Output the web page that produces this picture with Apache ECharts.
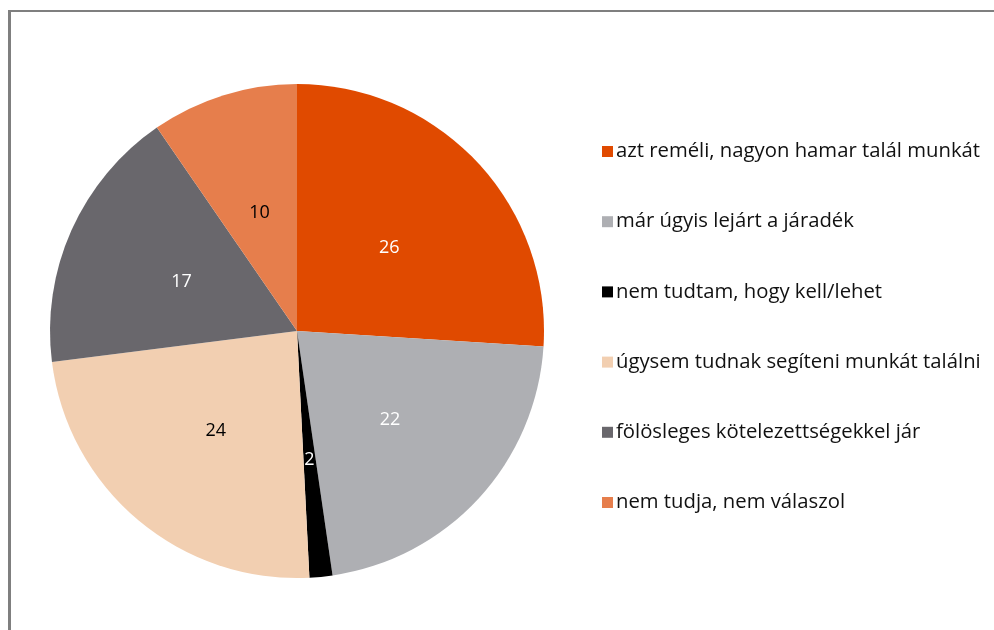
<!DOCTYPE html>
<html>
<head>
<meta charset="utf-8">
<script src="https://cdn.jsdelivr.net/npm/echarts@6/dist/echarts.min.js"></script>
<style>
  html, body { margin: 0; padding: 0; background: #fff; }
  #chart { width: 994px; height: 630px; }
</style>
</head>
<body>
<div id="chart"></div>
<script>
// kategóriák és értékek (%), a szeletek szögeiből becsülve; a címkék kerekítve
var kategoriak = [
    'azt reméli, nagyon hamar talál munkát',
    'már úgyis lejárt a járadék',
    'nem tudtam, hogy kell/lehet',
    'úgysem tudnak segíteni munkát találni',
    'fölösleges kötelezettségekkel jár',
    'nem tudja, nem válaszol'
];
var ertekek = [26.0, 21.7, 1.5, 23.8, 17.4, 9.6];
var szinek = ['#E04A00', '#AEAFB3', '#000000', '#F2CFB1', '#69676C', '#E67E4C'];
var cimkeSzinek = ['#ffffff', '#ffffff', '#ffffff', '#000000', '#ffffff', '#000000'];

var chartDom = document.getElementById('chart');
var myChart = echarts.init(chartDom);

var lstData = [];
for (var i = 0; i < kategoriak.length; i++) {
    lstData.push({
        name: kategoriak[i],
        value: ertekek[i],
        itemStyle: { color: szinek[i] },
        label: { color: cimkeSzinek[i] }
    });
}

var option = {
    animation: false,
    textStyle: { fontFamily: 'Open Sans' },
    graphic: [
        { type: 'rect', shape: { x: 8, y: 10, width: 3, height: 620 }, style: { fill: '#7f7f7f' } },
        { type: 'rect', shape: { x: 8, y: 10, width: 986, height: 2 }, style: { fill: '#7f7f7f' } }
    ],
    legend: {
        orient: 'vertical',
        left: 597,
        top: 135.5,
        itemWidth: 11,
        itemHeight: 11,
        itemGap: 48.2,
        icon: 'rect',
        data: kategoriak,
        textStyle: { fontSize: 20.3, color: '#111', fontFamily: 'Open Sans', lineHeight: 22, padding: [0, 0, 0, -2] }
    },
    series: [
        {
            type: 'pie',
            center: [297, 331],
            radius: [0, 247],
            startAngle: 90,
            clockwise: true,
            avoidLabelOverlap: false,
            label: {
                show: true,
                position: 'inside',
                formatter: function (p) { return Math.round(p.value); },
                fontSize: 18,
                fontFamily: 'Open Sans',
                offset: [0, 3]
            },
            labelLine: { show: false },
            emphasis: { disabled: true },
            data: lstData
        }
    ]
};

option && myChart.setOption(option);
</script>
</body>
</html>
